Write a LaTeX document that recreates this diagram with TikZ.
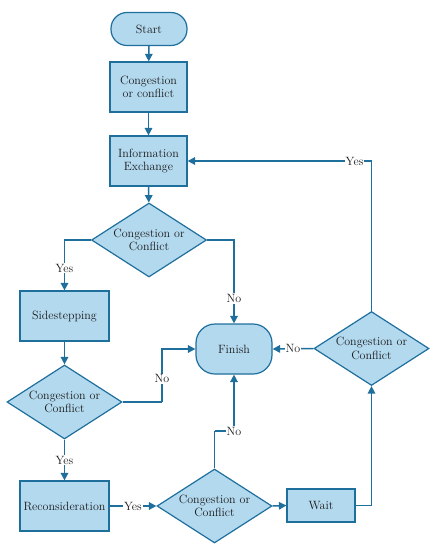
\documentclass[tikz,border=0pt]{standalone}
\usetikzlibrary{shapes.geometric,arrows.meta}
\definecolor{boxfill}{HTML}{B3D9EF}
\definecolor{boxline}{HTML}{1F6F9C}
\definecolor{txt}{HTML}{1A1A1A}
\begin{document}
\begin{tikzpicture}[x=1pt,y=-1pt,
  every node/.style={font=\fontsize{12}{13.5}\selectfont, text=txt},
  base/.style={draw=boxline, fill=boxfill, line width=1.2pt, align=center, inner sep=0pt},
  procbox/.style={base, rectangle},
  termbox/.style={base, rectangle},
  decbox/.style={base, diamond, minimum width=115pt, minimum height=74pt},
  arr/.style={draw=boxline, line width=1.5pt, -{Triangle[length=7.5pt,width=7.5pt]}},
  lnk/.style={draw=boxline, line width=1.5pt},
  lab/.style={fill=white, inner sep=1pt}
]
\useasboundingbox (0,0) rectangle (437,550);
\fill[white] (0,0) rectangle (437,550);

\node[termbox, minimum width=76pt, minimum height=33pt, rounded corners=16pt] (start) at (149,29) {Start};
\node[procbox, minimum width=77pt, minimum height=50pt] (cc) at (148.5,87) {Congestion\\or conflict};
\node[procbox, minimum width=77pt, minimum height=50pt] (ie) at (148.5,161) {Information\\Exchange};
\node[decbox, label={[align=center]center:Congestion or\\Conflict}] (d1) at (149,240) {};
\node[procbox, minimum width=89pt, minimum height=50pt] (side) at (64.5,316) {Sidestepping};
\node[termbox, minimum width=76pt, minimum height=50pt, rounded corners=19pt] (finish) at (234,349) {Finish};
\node[decbox, label={[align=center]center:Congestion or\\Conflict}] (d3) at (371.5,348.5) {};
\node[decbox, label={[align=center]center:Congestion or\\Conflict}] (d2) at (64.5,402) {};
\node[procbox, minimum width=89pt, minimum height=50pt] (recon) at (64.5,506) {Reconsideration};
\node[decbox, label={[align=center]center:Congestion or\\Conflict}] (d4) at (214.5,506) {};
\node[procbox, minimum width=68pt, minimum height=33pt] (wait) at (321,505.5) {Wait};

\coordinate (c1) at (162,402);
\coordinate (c2) at (214.5,431);

\draw[arr] (start) -- (cc);
\draw[arr] (cc) -- (ie);
\draw[arr] (ie) -- (d1);
\draw[arr] (d1.west) -| node[lab, pos=0.78] {Yes} (side.north);
\draw[arr] (d1.east) -| node[lab, pos=0.85] {No} (finish.north);
\draw[arr] (side) -- (d2.north);
\draw[lnk] (d2.east) -- (c1);
\draw[arr] (c1) |- node[lab, pos=0.22] {No} (finish.west);
\draw[arr] (d2.south) -- node[lab] {Yes} (recon.north);
\draw[arr] (recon.east) -- node[lab] {Yes} (d4.west);
\draw[lnk] (d4.north) -- (c2);
\draw[arr] (c2) -| node[lab, pos=0.5] {No} (finish.south);
\draw[arr] (d4.east) -- (wait.west);
\draw[arr] (wait.east) -| (d3.south);
\draw[arr] (d3.west) -- node[lab] {No} (finish.east);
\draw[arr] (d3.north) |- node[lab, pos=0.546] {Yes} (ie.east);
\end{tikzpicture}
\end{document}
